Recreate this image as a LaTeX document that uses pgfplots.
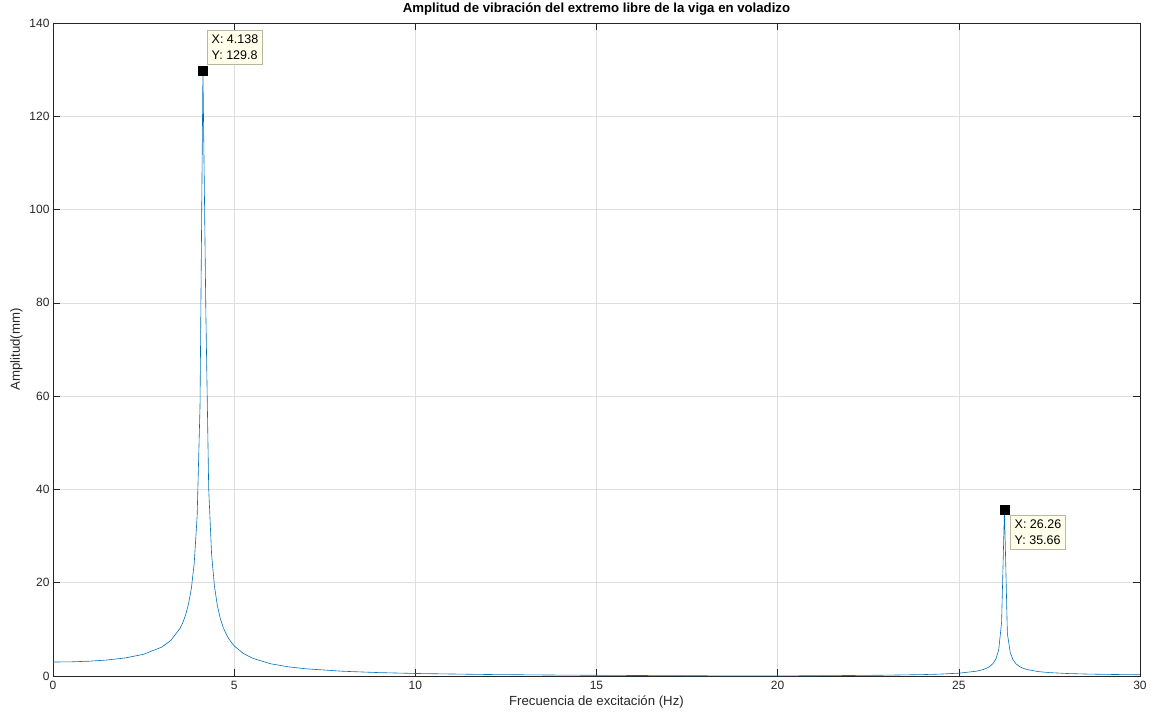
\documentclass[border=0pt]{standalone}
\usepackage{fontspec}
\setmainfont{Liberation Sans}
\usepackage{pgfplots}
\pgfplotsset{compat=1.18}
\definecolor{mblue}{rgb}{0,0.447,0.741}
\definecolor{maxis}{rgb}{0.15,0.15,0.15}
\definecolor{tipfill}{rgb}{1,1,0.92}
\definecolor{tipdraw}{rgb}{0.72,0.72,0.62}
\begin{document}
\begin{tikzpicture}
\useasboundingbox (-53pt,-46pt) rectangle (1103pt,676pt);
\begin{axis}[
  at={(0pt,0pt)}, anchor=south west,
  scale only axis, width=1087pt, height=653pt,
  xmin=0, xmax=30, ymin=0, ymax=140,
  xtick={0,5,...,30}, ytick={0,20,...,140},
  grid=major,
  major grid style={color=black!13, line width=0.5pt},
  axis line style={color=maxis, line width=0.6pt},
  tick style={color=maxis, line width=0.6pt},
  tick align=inside, tick pos=both, major tick length=7pt,
  ticklabel style={font=\fontsize{12}{14}\selectfont, color=maxis},
  xticklabel style={yshift=-2pt},
  /pgf/number format/assume math mode=true,
  title={\bfseries Amplitud de vibración del extremo libre de la viga en voladizo},
  title style={font=\fontsize{13.2}{15}\selectfont, color=black, yshift=-2pt},
  xlabel={Frecuencia de excitación (Hz)},
  ylabel={Amplitud(mm)},
  label style={font=\fontsize{13.2}{15}\selectfont, color=maxis},
  xlabel style={yshift=1pt},
  clip=false,
]
\addplot[color=mblue, line width=0.6pt] table {
x y
0 2.994
0.5 3.037
1 3.174
1.5 3.433
2 3.878
2.5 4.657
3 6.186
3.25 7.613
3.5 10.15
3.581 11.43
3.661 13.12
3.740 15.43
3.820 18.84
3.899 24.27
3.979 34.4
4.058 57.9
4.138 129.8
4.218 78.4
4.297 40.2
4.377 26.1
4.456 19.24
4.536 15.1
4.616 12.38
4.695 10.48
4.775 9.07
4.854 7.97
4.934 7.08
5.013 6.37
5.25 4.85
5.5 3.83
6 2.63
6.5 1.96
7 1.53
8 1.015
9 0.725
10 0.541
12 0.318
14 0.194
16 0.110
18 0.044
19 0.015
20 0.020
21 0.058
22 0.107
23 0.177
24 0.30
24.5 0.41
25 0.604
25.465 1.006
25.544 1.126
25.624 1.278
25.704 1.475
25.783 1.735
25.863 2.107
25.942 2.667
26.022 3.62
26.101 5.575
26.181 11.56
26.260 35.66
26.340 9.13
26.419 5.03
26.499 3.435
26.578 2.62
26.658 2.12
26.738 1.78
26.817 1.54
26.897 1.36
27.2 0.938
27.5 0.725
28 0.530
28.5 0.422
29 0.352
29.5 0.302
30 0.266
};
\addplot[only marks, mark=square*, mark size=4.3pt, color=black] coordinates {(4.138,129.8) (26.26,35.66)};
\node[anchor=south west, xshift=4.5pt, yshift=6pt, fill=tipfill, draw=tipdraw, line width=0.5pt,
  align=left, inner xsep=4pt, inner ysep=4.5pt, font=\fontsize{12.5}{16.5}\selectfont, text=black]
  at (axis cs:4.138,129.8) {X: 4.138\\Y: 129.8};
\node[anchor=north west, xshift=6pt, yshift=-5pt, fill=tipfill, draw=tipdraw, line width=0.5pt,
  align=left, inner xsep=4pt, inner ysep=4.5pt, font=\fontsize{12.5}{16.5}\selectfont, text=black]
  at (axis cs:26.26,35.66) {X: 26.26\\Y: 35.66};
\end{axis}
\end{tikzpicture}
\end{document}
